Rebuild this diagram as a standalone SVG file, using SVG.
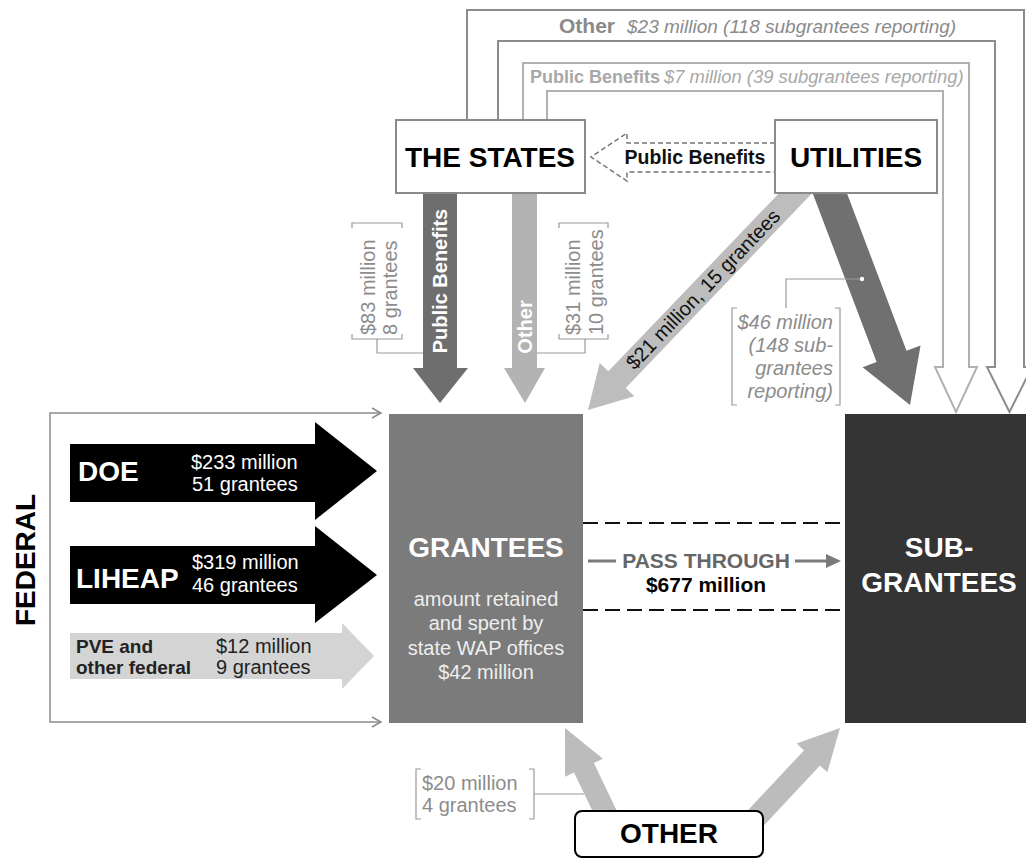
<svg xmlns="http://www.w3.org/2000/svg" width="1026" height="859" viewBox="0 0 1026 859">
<defs>
<style>
text{font-family:"Liberation Sans",Arial,sans-serif;}
.b{font-weight:bold;}
.i{font-style:italic;}
.box{fill:#fff;stroke:#8a8a8a;stroke-width:2;}
.gt{fill:#8c8c8c;font-size:20px;}
.br{fill:none;stroke:#9a9a9a;stroke-width:1.2;}
.w{fill:#fff;}
</style>
</defs>
<rect width="1026" height="859" fill="#fff"/>

<g id="connectors">
  <!-- top hollow arrows -->
  <path d="M467 120 V10 H1024 V367 H1032 L1009.5 412 L987 367 H995 V41 H498 V120" fill="none" stroke="#8c8c8c" stroke-width="2"/>
  <path d="M523 120 V63 H969 V367 H977 L956 412 L935 367 H943 V91 H547 V120" fill="none" stroke="#b0b0b0" stroke-width="2"/>
  <text x="559" y="33" class="b" font-size="21" fill="#8a8a8a">Other</text>
  <text x="627" y="33" class="i" font-size="19" fill="#8a8a8a">$23 million (118 subgrantees reporting)</text>
  <text x="530" y="83" class="b" font-size="18" fill="#a8a8a8">Public Benefits</text>
  <text x="664" y="83" class="i" font-size="18.4" fill="#a8a8a8">$7 million (39 subgrantees reporting)</text>

  <!-- dashed hollow arrow utilities -> states -->
  <path d="M775 143 H627 V133 L591 157 L627 181 V172 H775" fill="#fff" stroke="#777" stroke-width="1.5" stroke-dasharray="5 3"/>
  <text x="695" y="164" class="b" font-size="19.5" text-anchor="middle" fill="#111">Public Benefits</text>

  <!-- states down arrows -->
  <polygon points="423,190 457,190 457,368 468,368 440,403 413,368 423,368" fill="#6e6e6e"/>
  <polygon points="512,190 537,190 537,368 545,368 525,403 504,368 512,368" fill="#b3b3b3"/>
  <text transform="translate(447,281) rotate(-90)" class="b w" font-size="20" text-anchor="middle">Public Benefits</text>
  <text transform="translate(532,327) rotate(-90)" class="b w" font-size="20" text-anchor="middle">Other</text>

  <!-- brackets for states arrows -->
  <path class="br" d="M352 228 V223 H402 V228 M352 334 V339 H402 V334 M377 339 V353 H423"/>
  <text transform="translate(375,335) rotate(-90)" class="gt">$83 million</text>
  <text transform="translate(397,335) rotate(-90)" class="gt">8 grantees</text>
  <path class="br" d="M559 228 V223 H608 V228 M559 334 V339 H608 V334 M585 339 V353 H537"/>
  <text transform="translate(580,335) rotate(-90)" class="gt">$31 million</text>
  <text transform="translate(603,335) rotate(-90)" class="gt">10 grantees</text>

  <!-- utilities arrows -->
  <polygon points="804.33,166.70 608.38,371.36 599.71,363.06 588,410 634.39,396.26 625.72,387.96 821.67,183.30" fill="#bdbdbd"/>
  <text transform="translate(708,294) rotate(-46.25)" font-size="20" text-anchor="middle" fill="#111">$21 million, 15 grantees</text>
  <polygon points="806.04,175.67 876.62,362.04 862.59,367.35 910,405 920.57,345.39 906.54,350.70 835.96,164.33" fill="#707070"/>
  <path class="br" d="M862 279 H786 V308 M737 308 H732 V405 H737 M835 308 H840 V405 H835"/>
  <circle cx="862" cy="279" r="2.2" fill="#fff"/>
  <text x="833" y="329" class="gt i" text-anchor="end">$46 million</text>
  <text x="833" y="352" class="gt i" text-anchor="end">(148 sub-</text>
  <text x="833" y="375" class="gt i" text-anchor="end">grantees</text>
  <text x="833" y="398" class="gt i" text-anchor="end">reporting)</text>

  <!-- federal bracket -->
  <path d="M380 413 H50 V722 H380" fill="none" stroke="#8c8c8c" stroke-width="1.5"/>
  <path d="M372 408 L381 413 L372 418 M372 717 L381 722 L372 727" fill="none" stroke="#8c8c8c" stroke-width="1.5"/>

  <!-- federal arrows -->
  <polygon points="70,444 315,444 315,422 377,471 315,520 315,502 70,502" fill="#000"/>
  <polygon points="70,546 315,546 315,526 377,575 315,623 315,604 70,604" fill="#000"/>
  <polygon points="70,633 342,633 342,623 374,656 342,689 342,679 70,679" fill="#d4d4d4"/>

  <!-- pass through -->
  <path d="M583 523 H845 M583 610 H845" stroke="#111" stroke-width="2" stroke-dasharray="15 7"/>
  <path d="M588 561 H616 M795 561 H828" stroke="#7a7a7a" stroke-width="3"/>
  <polygon points="826,554 841,561 826,568" fill="#7a7a7a"/>
  <text x="706" y="568" class="b" font-size="21" text-anchor="middle" fill="#666">PASS THROUGH</text>
  <text x="706" y="592" class="b" font-size="21" text-anchor="middle" fill="#000">$677 million</text>

  <!-- other arrows -->
  <polygon points="618.92,815.25 593.91,762.94 602.93,758.63 565,728 565.05,776.75 574.07,772.44 599.08,824.75" fill="#bcbcbc"/>
  <polygon points="760.03,829.52 820.01,765.45 827.31,772.28 840,728 796.65,743.58 803.95,750.41 743.97,814.48" fill="#bcbcbc"/>
  <path class="br" d="M421 769 H416 V819 H421 M529 769 H534 V819 H529 M534 794 H584"/>
  <text x="422" y="790" class="gt">$20 million</text>
  <text x="422" y="812" class="gt">4 grantees</text>
</g>

<g id="states">
  <rect class="box" x="396" y="120" width="189" height="73"/>
  <text x="490" y="167" class="b" font-size="28" text-anchor="middle" fill="#000">THE STATES</text>
</g>

<g id="utilities">
  <rect class="box" x="775" y="120" width="162" height="73"/>
  <text x="856" y="167" class="b" font-size="28" text-anchor="middle" fill="#000">UTILITIES</text>
</g>

<g id="federal">
  <text transform="translate(35,560) rotate(-90)" class="b" font-size="28" text-anchor="middle" fill="#000">FEDERAL</text>
  <text x="78" y="481" class="b w" font-size="28">DOE</text>
  <text x="191" y="469" class="w" font-size="20">$233 million</text>
  <text x="192" y="491" class="w" font-size="20">51 grantees</text>
  <text x="76" y="588" class="b w" font-size="28">LIHEAP</text>
  <text x="192" y="569" class="w" font-size="20">$319 million</text>
  <text x="192" y="592" class="w" font-size="20">46 grantees</text>
  <text x="76" y="653" class="b" font-size="19" fill="#222">PVE and</text>
  <text x="76" y="674" class="b" font-size="19" fill="#222">other federal</text>
  <text x="216" y="653" font-size="20" fill="#222">$12 million</text>
  <text x="216" y="674" font-size="20" fill="#222">9 grantees</text>
</g>

<g id="grantees">
  <rect x="389" y="414" width="194" height="309" fill="#7b7b7b"/>
  <text x="486" y="557" class="b w" font-size="28" text-anchor="middle">GRANTEES</text>
  <text x="486" y="606" font-size="20" text-anchor="middle" fill="#eee">amount retained</text>
  <text x="486" y="630" font-size="20" text-anchor="middle" fill="#eee">and spent by</text>
  <text x="486" y="655" font-size="20" text-anchor="middle" fill="#eee">state WAP offices</text>
  <text x="486" y="679" font-size="20" text-anchor="middle" fill="#eee">$42 million</text>
</g>

<g id="subgrantees">
  <rect x="845" y="414" width="181" height="309" fill="#343434"/>
  <text x="939" y="557" class="b w" font-size="28" text-anchor="middle">SUB-</text>
  <text x="939" y="592" class="b w" font-size="28" text-anchor="middle">GRANTEES</text>
</g>

<g id="other">
  <rect x="575" y="811" width="188" height="46" rx="7" fill="#fff" stroke="#000" stroke-width="2"/>
  <text x="669" y="843" class="b" font-size="28" text-anchor="middle" fill="#000">OTHER</text>
</g>
</svg>
